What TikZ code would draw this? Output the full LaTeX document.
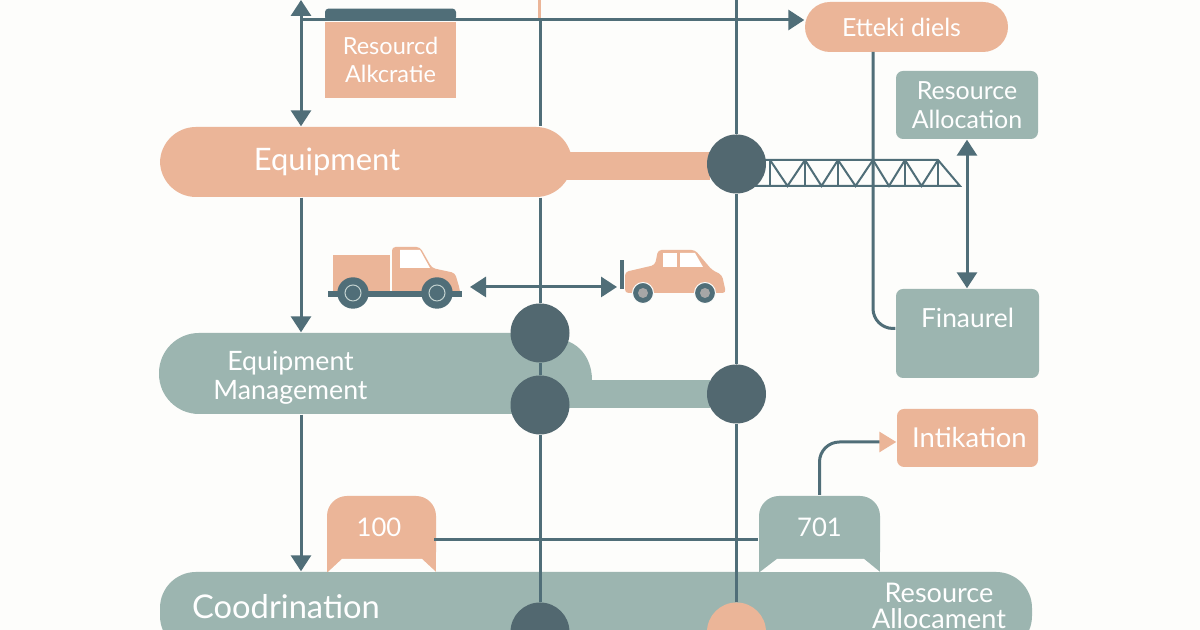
\documentclass[tikz,border=0pt]{standalone}
\usepackage{fontspec}
\setmainfont{Lato}
\usetikzlibrary{arrows.meta,positioning}
\definecolor{dpeach}{RGB}{235,181,152}
\definecolor{dsage}{RGB}{156,181,176}
\definecolor{dslate}{RGB}{80,110,120}
\definecolor{ddisc}{RGB}{82,104,112}
\definecolor{dpaper}{RGB}{253,253,251}
\tikzset{
  conn/.style={draw=dslate, line width=0.03cm},
  trussbar/.style={draw=dslate, line width=0.02cm},
  tipped/.style={conn, {Triangle[width=0.2cm,length=0.16cm]}-{Triangle[width=0.2cm,length=0.16cm]}},
  tipend/.style={conn, -{Triangle[width=0.2cm,length=0.16cm]}},
  pill/.style={inner sep=0pt, rounded corners=0.36cm},
  card/.style={inner sep=0pt, rounded corners=2pt, align=center, text=white, font=\fontsize{7.1}{8.2}\selectfont},
  disc/.style={circle, fill=ddisc, inner sep=0pt, minimum size=0.59cm},
  lbl/.style={text=white, align=center, inner sep=0pt},
  tablbl/.style={inner sep=0pt, text=white, font=\fontsize{7.3}{8.4}\selectfont, minimum height=0.63cm}
}
\begin{document}
\begin{tikzpicture}
  \clip (0,0) rectangle (12,6.3);
  \fill[dpaper] (0,0) rectangle (12,6.3);

  % Bands
  \node[pill, fill=dsage, minimum width=8.72cm, minimum height=0.8cm] (coord) at (5.96,0.18) {};
  \node[pill, fill=dpeach, minimum width=4.12cm, minimum height=0.7cm] (equip) at (3.66,4.68) {};
  \fill[dpeach] (5.6,4.78) -- (7.1,4.78) -- (7.1,4.5) -- (5.6,4.5) -- cycle;
  \node[pill, fill=dsage, minimum width=4.0cm, minimum height=0.81cm, rounded corners=0.4cm] (mgmt) at (3.59,2.565) {};
  \fill[dsage] (5.2,2.92) -- (5.5,2.92) .. controls (5.8,2.92) and (5.92,2.7) .. (5.92,2.5) -- (5.2,2.5) -- cycle;
  \fill[dsage] (5.4,2.5) rectangle (7.1,2.22);

  % Band labels
  \node[lbl, font=\fontsize{8.8}{10}\selectfont] (equiplbl) at (3.27,4.68) {Equipment};
  \node[lbl, font=\fontsize{7.6}{8.2}\selectfont] (mgmtlbl) at (2.905,2.52) {Equipment\\Management};
  \node[lbl, font=\fontsize{9.3}{11}\selectfont] (coordlbl) at (2.86,0.23) {Coodrination};
  \node[lbl, font=\fontsize{7.7}{7.4}\selectfont] (coordres) at (9.39,0.24) {Resource\\Allocament};

  % Truss
  \coordinate (trussend) at (9.6,4.44);
  \draw[trussbar] (7.36,4.44) -- (trussend) -- (9.38,4.7) -- (7.36,4.7);
  \foreach \px in {7.7,8.05,8.38,8.73,9.05,9.38} {
    \draw[trussbar] (\px,4.7) -- (\px,4.44);
  }
  \foreach \pa/\pb in {7.7/8.05,8.05/8.38,8.38/8.73,8.73/9.05,9.05/9.38} {
    \draw[trussbar] (\pa,4.7) -- ({(\pa+\pb)/2},4.44) -- (\pb,4.7);
  }

  % Discs on the rails
  \node[disc] (d1) at (7.365,4.66) {};
  \node[disc] (d2) at (5.4,2.97) {};
  \node[disc] (d3) at (5.4,2.25) {};
  \node[disc] (d4) at (7.365,2.36) {};
  \node[disc] (d5) at (5.4,-0.02) {};
  \node[disc, fill=dpeach] (d6) at (7.365,-0.02) {};

  % Right hand boxes
  \node[pill, fill=dpeach, rounded corners=0.25cm, minimum width=2.03cm, minimum height=0.5cm, lbl, font=\fontsize{7.1}{8}\selectfont] (effic) at (9.065,6.03) {Etteki diels\hspace{0.1cm}};
  \node[card, fill=dsage, minimum width=1.42cm, minimum height=0.68cm] (alloc) at (9.67,5.25) {\rule{0pt}{0.06cm}Resource\\Allocation};
  \node[card, fill=dsage, minimum width=1.43cm, minimum height=0.89cm, font=\fontsize{7.5}{8.4}\selectfont] (fin) at (9.675,2.965) {\raisebox{0.06cm}[0pt][0pt]{Finaurel}};
  \node[card, fill=dpeach, minimum width=1.41cm, minimum height=0.58cm, font=\fontsize{7.8}{9}\selectfont] (intik) at (9.675,1.92) {\hspace{0.04cm}Intikation};

  % Free ends of the rails
  \coordinate (lefttop) at (3.01,6.3);
  \coordinate (leftmid) at (3.01,6.1);
  \coordinate (railatop) at (5.4,6.1);
  \coordinate (peachtop) at (5.39,6.3);
  \coordinate (railbtop) at (7.365,6.3);
  \coordinate (rise) at (8.73,5.78);

  % Rails and arrows
  \draw[conn, draw=dpeach] (peachtop) -- (peachtop |- railatop);
  \draw[conn] (railatop) -- (railatop |- equip.north);
  \draw[conn] (railatop |- equip.south) -- (d2);
  \draw[conn] (d2) -- (d3);
  \draw[conn] (d3) -- (d5);
  \draw[conn] (railbtop) -- (d1);
  \draw[conn] (d1) -- (d4);
  \draw[conn] (d4) -- (d6);
  \draw[conn, rounded corners=0.2cm] (rise) |- ([yshift=0.05cm]fin.west);
  \draw[tipped] (alloc.south) -- (alloc.south |- fin.north);
  \draw[tipend] (leftmid) -- (effic.west |- leftmid);

  % Resource card with its dark top
  \node[card, fill=dpeach, sharp corners, minimum width=1.31cm, minimum height=0.76cm, font=\fontsize{6.7}{8.2}\selectfont] (res) at (3.905,5.70) {Resourcd\\Alkcratie};
  \node[inner sep=0pt, fill=dslate, rounded corners=1pt, minimum width=1.31cm, minimum height=0.12cm, above=0pt of res] (rescap) {};

  % Left rail
  \draw[tipend] (equip.south -| lefttop) -- (mgmt.north -| lefttop);
  \draw[tipend] (mgmt.south -| lefttop) -- (coord.north -| lefttop);
  \draw[tipped] (lefttop) -- (equip.north -| lefttop);

  % Left truck
  \fill[dpeach] (3.33,3.75) rectangle (3.9,3.38);
  \fill[dpeach, rounded corners=1pt] (3.92,3.83) -- (4.2,3.83) -- (4.32,3.62) -- (4.55,3.57) -- (4.6,3.4) -- (4.6,3.36) -- (3.92,3.36) -- cycle;
  \fill[white] (4.0,3.8) -- (4.2,3.8) -- (4.3,3.62) -- (4.0,3.62) -- cycle;
  \fill[dslate] (3.28,3.33) rectangle (4.62,3.39);
  \node[disc, fill=dslate, minimum size=0.3cm, draw=dslate] (wa) at (3.53,3.37) {};
  \node[disc, fill=dslate, minimum size=0.3cm, draw=dslate] (wb) at (4.37,3.37) {};
  \draw[dsage!60, line width=0.01cm] (wa) circle (0.08);
  \draw[dsage!60, line width=0.01cm] (wb) circle (0.08);

  % Right truck
  \fill[dpeach, rounded corners=1pt] (6.25,3.58) -- (6.55,3.65) -- (6.58,3.8) -- (6.95,3.8) -- (7.12,3.6) -- (7.22,3.55) -- (7.26,3.37) -- (6.25,3.37) -- cycle;
  \fill[white] (6.63,3.77) rectangle (6.77,3.63);
  \fill[white] (6.8,3.77) -- (6.95,3.77) -- (7.03,3.63) -- (6.8,3.63) -- cycle;
  \fill[dslate] (6.2,3.7) rectangle (6.24,3.41);
  \node[disc, fill=dslate, draw=dpaper, line width=0.01cm, minimum size=0.21cm] (wc) at (6.43,3.37) {};
  \node[disc, fill=dslate, draw=dpaper, line width=0.01cm, minimum size=0.21cm] (wd) at (7.05,3.37) {};
  \fill[gray!70] (wc) circle (0.05);
  \fill[gray!70] (wd) circle (0.05);

  % Arrow between the trucks
  \coordinate (cartl) at (4.7,3.43);
  \coordinate (cartr) at (6.17,3.43);
  \draw[tipped] (cartl) -- (cartr);

  % Number tabs
  \fill[dpeach, rounded corners=0.2cm] (3.27,0.58) -- (3.27,1.34) -- (4.36,1.34) -- (4.36,0.58) -- cycle;
  \fill[dpeach] (3.27,0.9) rectangle (4.36,0.58);
  \fill[dpaper] (3.28,0.58) -- (3.42,0.71) -- (4.22,0.71) -- (4.36,0.58) -- cycle;
  \node[tablbl, minimum width=1.09cm] (t100) at (3.79,1.03) {100};
  \fill[dsage, rounded corners=0.2cm] (7.59,0.58) -- (7.59,1.34) -- (8.8,1.34) -- (8.8,0.58) -- cycle;
  \fill[dsage] (7.59,0.9) rectangle (8.8,0.58);
  \fill[dpaper] (7.6,0.58) -- (7.77,0.71) -- (8.64,0.71) -- (8.8,0.58) -- cycle;
  \node[tablbl, minimum width=1.21cm] (t701) at (8.195,1.03) {701};
  \draw[conn] ([yshift=-0.13cm]t100.east) -- ([yshift=-0.13cm]t701.west);
  \draw[conn, rounded corners=0.2cm, -{Triangle[width=0.2cm,length=0.17cm,color=dpeach,fill=dpeach]}] (t701.north) |- ([yshift=-0.04cm]intik.west);
\end{tikzpicture}
\end{document}
